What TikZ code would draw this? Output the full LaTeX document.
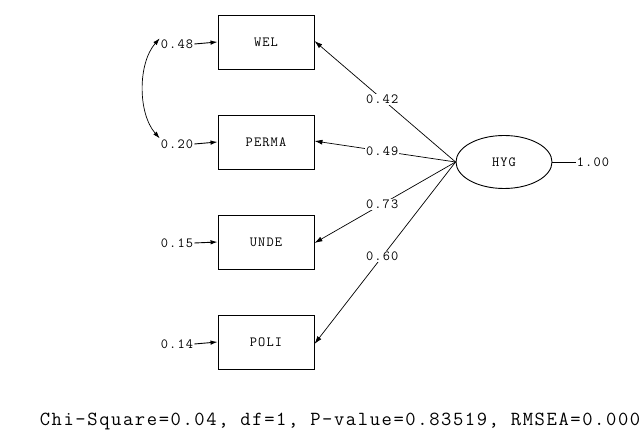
\documentclass[tikz,border=0pt]{standalone}
\usepackage{fontspec}
\setmainfont{Latin Modern Mono}[LetterSpace=8]
\usetikzlibrary{arrows.meta,shapes.geometric}

\begin{document}
\begin{tikzpicture}[x=1pt,y=-1pt,
    obs/.style={draw,line width=0.9pt,minimum width=96pt,minimum height=54pt,
      inner sep=0pt,font=\fontsize{14}{16}\selectfont},
    lat/.style={draw,ellipse,line width=0.9pt,minimum width=96pt,minimum height=53pt,
      inner sep=0pt,font=\fontsize{14}{16}\selectfont},
    num/.style={inner sep=1pt,fill=white,font=\fontsize{14}{16}\selectfont},
    path/.style={line width=0.7pt,-{Latex[length=8pt,width=5pt]}},
    err/.style={line width=0.9pt,-{Latex[length=7pt,width=4.5pt]}}]
  \useasboundingbox (0,0) rectangle (644,435);
  % Observed variables
  \node[obs] (wel)   at (266,42)  {WEL};
  \node[obs] (perma) at (266,142) {PERMA};
  \node[obs] (unde)  at (266,242) {UNDE};
  \node[obs] (poli)  at (266,342) {POLI};
  % Latent variable
  \node[lat] (hyg) at (504,162) {HYG};
  \node[num] (var) at (593,162) {1.00};
  \draw[line width=0.7pt] (hyg.east) -- (var.west);
  % Error variances
  \node[num] (e1) at (177,44)  {0.48};
  \node[num] (e2) at (177,144) {0.20};
  \node[num] (e3) at (177,243) {0.15};
  \node[num] (e4) at (177,344) {0.14};
  \draw[err] (e1.east) -- (wel.west);
  \draw[err] (e2.east) -- (perma.west);
  \draw[err] (e3.east) -- (unde.west);
  \draw[err] (e4.east) -- (poli.west);
  % Error covariance
  \draw[line width=0.7pt,{Latex[length=7pt,width=4.5pt]}-{Latex[length=7pt,width=4.5pt]}]
    (e1.north west) .. controls +(-22,25) and +(-22,-25) .. (e2.north west);
  % Loadings
  \draw[path] (hyg.west) -- node[num,pos=0.52] {0.42} ([yshift=1pt]wel.east);
  \draw[path] (hyg.west) -- node[num,pos=0.52] {0.49} ([yshift=1pt]perma.east);
  \draw[path] (hyg.west) -- node[num,pos=0.52] {0.73} ([yshift=-1pt]unde.east);
  \draw[path] (hyg.west) -- node[num,pos=0.52] {0.60} ([yshift=-2pt]poli.east);
  % Fit statistics
  \node[font=\fontsize{20}{23}\selectfont] (fit) at (340,421)
    {Chi-Square=0.04, df=1, P-value=0.83519, RMSEA=0.000};
\end{tikzpicture}
\end{document}
